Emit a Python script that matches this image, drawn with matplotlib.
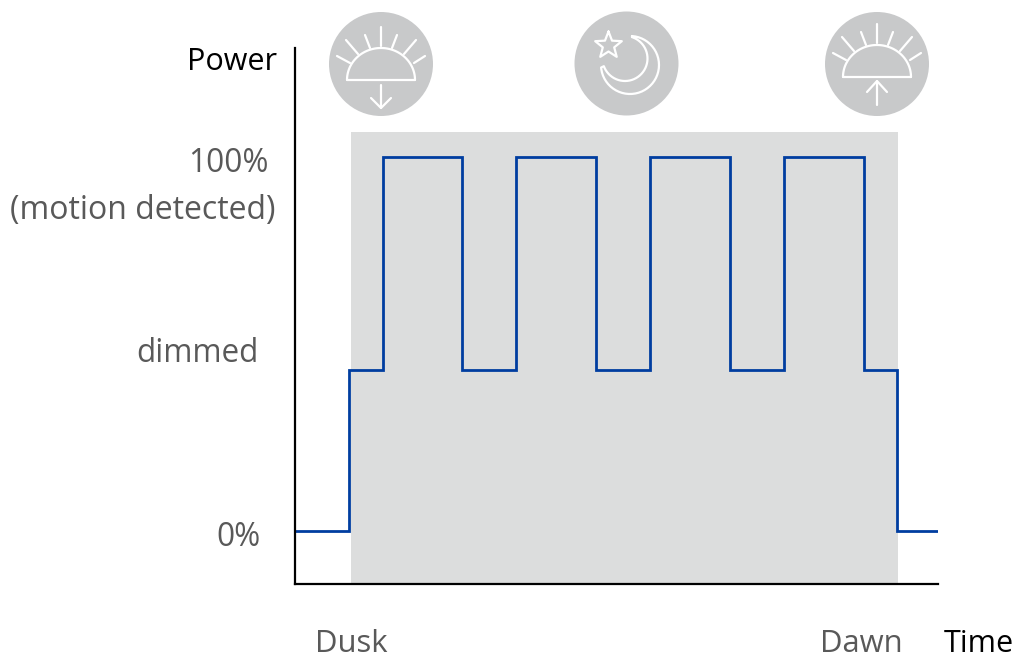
import numpy as np
import matplotlib
matplotlib.use("Agg")
import matplotlib.pyplot as plt
from matplotlib.patches import Circle

plt.rcParams['font.family'] = ['Open Sans', 'DejaVu Sans']

# step curve: time in px from the axis origin, power in %
time_steps = [0, 53.5, 53.5, 87.5, 87.5, 167, 167, 221, 221, 301, 301, 355, 355, 435, 435, 489, 489, 569, 569, 602, 602, 643]
power_steps = [0, 0, 43, 43, 100, 100, 43, 43, 100, 100, 43, 43, 100, 100, 43, 43, 100, 100, 43, 43, 0, 0]
night_start = 56
night_end = 603
night_top = 106.7

W, H = 1018, 659
GREY = '#595959'
LINE = '#003da0'
BAND = '#dcdddd'
ICON = '#c8c9ca'

fig = plt.figure(figsize=(W / 100, H / 100), dpi=100)
ax = fig.add_axes([295 / W, (H - 584) / H, 643 / W, 536 / H])
ax.set_xlim(0, 643)
ax.set_ylim(-14.2, 129.1)
ax.axvspan(night_start, night_end, ymin=0, ymax=(night_top + 14.2) / 143.3, color=BAND, lw=0)
ax.plot(time_steps, power_steps, color=LINE, lw=2.0, solid_joinstyle='miter')
ax.spines['top'].set_visible(False)
ax.spines['right'].set_visible(False)
ax.spines['left'].set_linewidth(1.6)
ax.spines['bottom'].set_linewidth(1.6)
ax.set_xticks([])
ax.set_yticks([])

# overlay in picture pixels for labels and icons
ov = fig.add_axes([0, 0, 1, 1])
ov.set_xlim(0, W)
ov.set_ylim(H, 0)
ov.axis('off')
ov.patch.set_alpha(0)

FS = 22.7
ov.text(277, 62, 'Power', ha='right', va='center', fontsize=22, color='black')
ov.text(269, 163, '100%', ha='right', va='center', fontsize=FS, color=GREY)
ov.text(276, 210, '(motion detected)', ha='right', va='center', fontsize=23, color=GREY)
ov.text(259, 354, 'dimmed', ha='right', va='center', fontsize=FS, color=GREY)
ov.text(261, 537, '0%', ha='right', va='center', fontsize=FS, color=GREY)
ov.text(351, 644, 'Dusk', ha='center', va='center', fontsize=22.3, color=GREY)
ov.text(861.5, 644, 'Dawn', ha='center', va='center', fontsize=22.3, color=GREY)
ov.text(1014, 644, 'Time', ha='right', va='center', fontsize=22, color='black')


def white(xs, ys, **kw):
    ov.plot(xs, ys, color='white', lw=1.6, solid_capstyle='round', solid_joinstyle='round', **kw)


def sun(cx, cy, base, arrow_up):
    ov.add_patch(Circle((cx, cy), 52, color=ICON, lw=0))
    t = np.linspace(0, np.pi, 80)
    white(cx + 34 * np.cos(t), base - 32 * np.sin(t))
    white([cx - 34, cx + 34], [base, base])
    rays = [(0, -53, 0, -34), (-35, -40, -23, -26), (-16, -45, -11, -32),
            (16, -45, 11, -32), (35, -40, 23, -26), (-44, -24, -31, -17), (44, -24, 33, -17)]
    for x0, y0, x1, y1 in rays:
        white([cx + x0, cx + x1], [base + y0, base + y1])
    if arrow_up:
        white([cx, cx], [base + 28, base + 4])
        white([cx - 10, cx, cx + 10], [base + 15, base + 4, base + 15])
    else:
        white([cx, cx], [base + 5, base + 28])
        white([cx - 10, cx, cx + 10], [base + 18, base + 28, base + 18])


def moon(cx, cy):
    ov.add_patch(Circle((cx, cy), 52, color=ICON, lw=0))
    a = np.radians(np.linspace(-86, 175, 80))
    ox, oy = cx + 3.5 + 29 * np.cos(a), cy + 1.5 + 29 * np.sin(a)
    a2 = np.radians(np.linspace(-72, 160, 80))
    ix, iy = cx - 1.5 + 22.5 * np.cos(a2), cy - 5 + 22.5 * np.sin(a2)
    white(np.r_[ox, ix[::-1], ox[0]], np.r_[oy, iy[::-1], oy[0]])
    ang = np.radians(-90 + 36 * np.arange(11))
    rad = np.where(np.arange(11) % 2 == 0, 14, 6)
    white(cx - 18 + rad * np.cos(ang), cy - 18 + rad * np.sin(ang))


sun(381, 64, 80, False)
moon(626.5, 63.5)
sun(877, 64, 77, True)

fig.savefig('out.png', dpi=100)
